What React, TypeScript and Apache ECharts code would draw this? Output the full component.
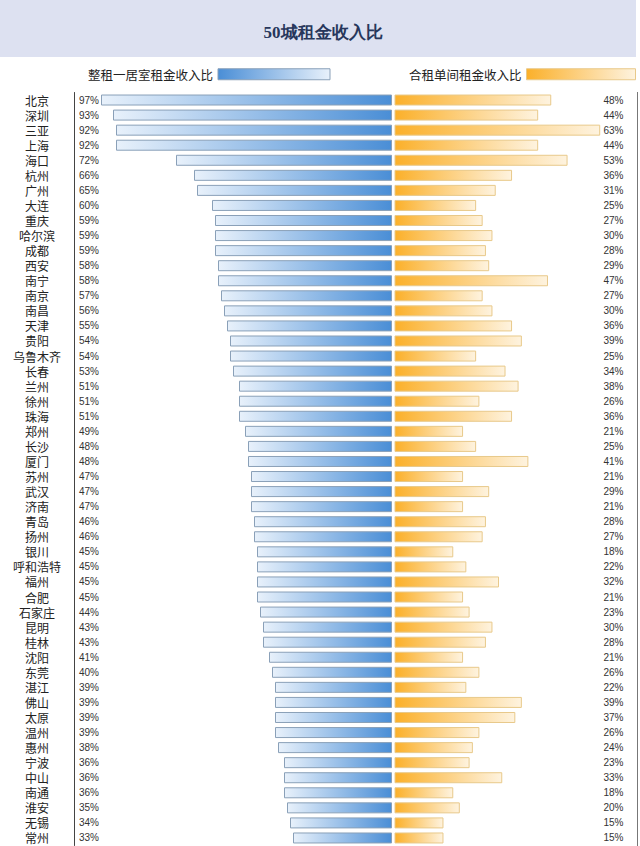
import React, { useEffect, useRef } from "react";
import * as echarts from "echarts";

const cities = ["北京","深圳","三亚","上海","海口","杭州","广州","大连","重庆","哈尔滨","成都","西安","南宁","南京","南昌","天津","贵阳","乌鲁木齐","长春","兰州","徐州","珠海","郑州","长沙","厦门","苏州","武汉","济南","青岛","扬州","银川","呼和浩特","福州","合肥","石家庄","昆明","桂林","沈阳","东莞","湛江","佛山","太原","温州","惠州","宁波","中山","南通","淮安","无锡","常州"];
const wholeRent = [97,93,92,92,72,66,65,60,59,59,59,58,58,57,56,55,54,54,53,51,51,51,49,48,48,47,47,47,46,46,45,45,45,45,44,43,43,41,40,39,39,39,39,38,36,36,36,35,34,33];
const sharedRent = [48,44,63,44,53,36,31,25,27,30,28,29,47,27,30,36,39,25,34,38,26,36,21,25,41,21,29,21,28,27,18,22,32,21,23,30,28,21,26,22,39,37,26,24,23,33,18,20,15,15];
const seriesNames = ["整租一居室租金收入比", "合租单间租金收入比"];
const titleText = "50城租金收入比";

const pct = (v: number) => v + "%";

export default function App() {
  const ref = useRef<HTMLDivElement>(null);
  useEffect(() => {
    document.body.style.margin = "0";
    const chart = echarts.init(ref.current!, null, { renderer: "svg" });
    const blueGrad = new echarts.graphic.LinearGradient(0, 0, 1, 0, [
      { offset: 0, color: "#e8f1fb" },
      { offset: 1, color: "#4a8ed6" },
    ]);
    const blueLegend = new echarts.graphic.LinearGradient(0, 0, 1, 0, [
      { offset: 0, color: "#4a8ed6" },
      { offset: 1, color: "#e8f1fb" },
    ]);
    const orangeGrad = new echarts.graphic.LinearGradient(0, 0, 1, 0, [
      { offset: 0, color: "#fbb02a" },
      { offset: 1, color: "#fef3df" },
    ]);
    const top = 92.5;
    const height = 753;
    chart.setOption({
      animation: false,
      backgroundColor: "#ffffff",
      title: {
        text: titleText,
        left: 318,
        textAlign: "center",
        top: 19,
        textStyle: { fontFamily: "serif", fontSize: 17, fontWeight: "bold", color: "#27375c" },
      },
      graphic: [
        { type: "rect", z: -10, shape: { x: 0, y: 0, width: 636, height: 57 }, style: { fill: "#dde1f1" } },
        { type: "line", shape: { x1: 637.5, y1: 92, x2: 637.5, y2: 846 }, style: { stroke: "#777", lineWidth: 1 } },
      ],
      legend: [
        {
          left: 88, top: 68, padding: 0, align: "right", icon: "rect", itemWidth: 112, itemHeight: 11,
          textStyle: { fontSize: 12.5, color: "#222", fontFamily: "Noto Sans CJK SC" },
          data: [{ name: seriesNames[0], itemStyle: { color: blueLegend, borderColor: "#8aa0b8", borderWidth: 1 } }],
          selectedMode: false,
        },
        {
          left: 409, top: 68, padding: 0, align: "right", icon: "rect", itemWidth: 109, itemHeight: 11,
          textStyle: { fontSize: 12.5, color: "#222", fontFamily: "Noto Sans CJK SC" },
          data: [{ name: seriesNames[1], itemStyle: { color: orangeGrad, borderColor: "#e8c98a", borderWidth: 1 } }],
          selectedMode: false,
        },
      ],
      grid: [
        { left: 92, top, width: 300, height },
        { left: 394.5, top, width: 240, height },
      ],
      xAxis: [
        { type: "value", gridIndex: 0, min: 0, max: 100, inverse: true, show: false },
        { type: "value", gridIndex: 1, min: 0, max: 73.5, show: false },
      ],
      yAxis: [
        {
          type: "category", gridIndex: 0, data: cities, inverse: true, position: "left", offset: 18,
          axisLine: { show: true, onZero: false, lineStyle: { color: "#444", width: 1 } },
          axisTick: { show: false },
          axisLabel: { margin: 37, align: "center", fontSize: 12, lineHeight: 12, color: "#222", fontFamily: "Noto Sans CJK SC", interval: 0 },
        },
        {
          type: "category", gridIndex: 0, data: wholeRent.map(pct), inverse: true, position: "left", offset: 0,
          axisLine: { show: false, onZero: false }, axisTick: { show: false },
          axisLabel: { margin: 13, align: "left", fontSize: 10, lineHeight: 10, color: "#333", fontFamily: "Liberation Sans", interval: 0 },
        },
        {
          type: "category", gridIndex: 1, data: sharedRent.map(pct), inverse: true, position: "right", offset: 0,
          axisLine: { show: false, onZero: false }, axisTick: { show: false },
          axisLabel: { margin: -11, align: "right", fontSize: 10, lineHeight: 10, color: "#333", fontFamily: "Liberation Sans", interval: 0 },
        },
      ],
      series: [
        {
          name: seriesNames[0], type: "bar", xAxisIndex: 0, yAxisIndex: 0, data: wholeRent, barWidth: 11,
          itemStyle: { color: blueGrad, borderColor: "#8aa0b8", borderWidth: 1 },
        },
        {
          name: seriesNames[1], type: "bar", xAxisIndex: 1, yAxisIndex: 2, data: sharedRent, barWidth: 11,
          itemStyle: { color: orangeGrad, borderColor: "#e8c98a", borderWidth: 1 },
        },
      ],
    });
    return () => chart.dispose();
  }, []);
  return <div ref={ref} style={{ width: 640, height: 846 }} />;
}
